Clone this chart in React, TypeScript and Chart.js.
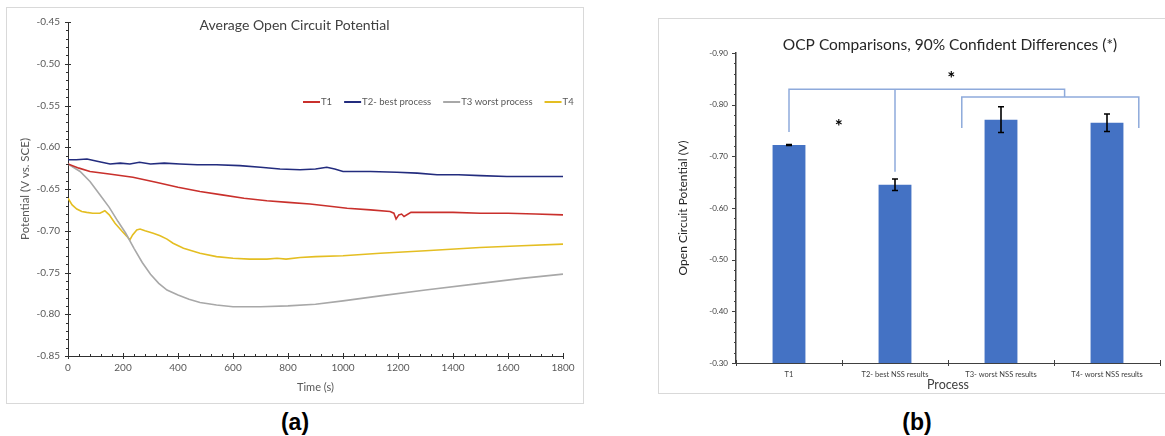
import React, { useEffect, useRef } from "react";
import { Chart, registerables } from "chart.js";

Chart.register(...registerables);

const FONT = "Lato, 'Open Sans', 'DejaVu Sans', sans-serif";

// ---------- Panel (a): Average Open Circuit Potential ----------
const seriesNames = ["T1", "T2- best process", "T3 worst process", "T4"];
const seriesColors = ["#C9302C", "#232C7E", "#A8A8A8", "#E4BE22"];

const t1Time = [0, 40, 80, 150, 236, 320, 400, 480, 560, 640, 723, 800, 880, 960, 1015, 1100, 1171, 1185, 1193, 1203, 1213, 1222, 1247, 1300, 1400, 1500, 1600, 1700, 1800];
const t1Value = [-0.620, -0.625, -0.629, -0.632, -0.636, -0.642, -0.648, -0.653, -0.657, -0.661, -0.664, -0.666, -0.668, -0.671, -0.673, -0.675, -0.677, -0.679, -0.686, -0.681, -0.680, -0.683, -0.678, -0.678, -0.678, -0.679, -0.679, -0.680, -0.681];

const t2Time = [0, 30, 69, 110, 153, 190, 225, 260, 300, 350, 407, 470, 540, 625, 700, 771, 844, 900, 941, 970, 1000, 1100, 1196, 1270, 1342, 1420, 1500, 1596, 1700, 1800];
const t2Value = [-0.615, -0.615, -0.614, -0.617, -0.620, -0.619, -0.620, -0.618, -0.620, -0.619, -0.620, -0.621, -0.621, -0.622, -0.624, -0.626, -0.627, -0.626, -0.624, -0.626, -0.629, -0.629, -0.630, -0.631, -0.633, -0.633, -0.634, -0.635, -0.635, -0.635];

const t3Time = [0, 44, 80, 116, 150, 182, 210, 240, 270, 300, 330, 360, 400, 440, 480, 540, 600, 700, 800, 900, 1000, 1135, 1300, 1500, 1650, 1800];
const t3Value = [-0.620, -0.629, -0.641, -0.657, -0.672, -0.689, -0.703, -0.721, -0.738, -0.752, -0.763, -0.771, -0.777, -0.782, -0.786, -0.789, -0.791, -0.791, -0.790, -0.788, -0.784, -0.778, -0.771, -0.763, -0.757, -0.752];

const t4Time = [0, 15, 32, 50, 68, 90, 116, 134, 150, 171, 195, 215, 225, 235, 250, 262, 280, 310, 335, 360, 382, 420, 480, 540, 600, 660, 723, 760, 793, 844, 900, 1000, 1135, 1300, 1498, 1650, 1800];
const t4Value = [-0.661, -0.669, -0.674, -0.677, -0.678, -0.679, -0.679, -0.676, -0.681, -0.691, -0.700, -0.707, -0.711, -0.705, -0.699, -0.698, -0.700, -0.703, -0.706, -0.710, -0.715, -0.721, -0.727, -0.731, -0.733, -0.734, -0.734, -0.733, -0.734, -0.732, -0.731, -0.730, -0.727, -0.724, -0.720, -0.718, -0.716];

const seriesTimes = [t1Time, t2Time, t3Time, t4Time];
const seriesValues = [t1Value, t2Value, t3Value, t4Value];

// ---------- Panel (b): OCP Comparisons ----------
const processes = ["T1", "T2- best NSS results", "T3- worst NSS results", "T4- worst NSS results"];
const ocpValues = [-0.722, -0.645, -0.771, -0.765];
const ocpErrors = [0.001, 0.011, 0.025, 0.017];
const barBase = -0.3;
// significance brackets in (category index, value) units
const bracketPaths = [
  [[0, -0.747], [0, -0.830], [2.6, -0.830], [2.6, -0.815]],
  [[1, -0.830], [1, -0.670]],
  [[1.63, -0.755], [1.63, -0.815], [3.3, -0.815], [3.3, -0.755]],
];
const starMarks = [[0.47, -0.765], [1.53, -0.857]];

// ---------- plugins ----------
const axisMarks = {
  id: "axisMarks",
  afterDraw(chart: any, _a: any, opts: any) {
    const ctx = chart.ctx;
    ctx.save();
    ctx.strokeStyle = opts.color || "#333";
    ctx.lineWidth = 1;
    const specs = opts.axes || {};
    for (const id of Object.keys(specs)) {
      const s = specs[id];
      const scale = chart.scales[id];
      if (!scale) continue;
      const majors: number[] = [];
      if (scale.type === "category") {
        const n = scale.getLabels().length;
        for (let i = 0; i <= n; i++) majors.push(scale.getPixelForValue(i - 0.5));
      } else {
        for (const tk of scale.ticks) majors.push(scale.getPixelForValue(tk.value));
      }
      const minors: number[] = [];
      const sub = s.sub || 1;
      for (let i = 0; i < majors.length - 1; i++)
        for (let k = 1; k < sub; k++) minors.push(majors[i] + ((majors[i + 1] - majors[i]) * k) / sub);
      const horiz = scale.isHorizontal();
      const base = horiz ? scale.top : scale.right;
      const seg = (p: number, inner: number, outer: number) => {
        const q = Math.round(p) + 0.5;
        ctx.beginPath();
        if (horiz) {
          ctx.moveTo(q, base - inner);
          ctx.lineTo(q, base + outer);
        } else {
          ctx.moveTo(base - outer, q);
          ctx.lineTo(base + inner, q);
        }
        ctx.stroke();
      };
      majors.forEach((p) => seg(p, s.majorIn, s.majorOut));
      minors.forEach((p) => seg(p, s.minorIn, s.minorOut));
    }
    ctx.restore();
  },
};

const innerTitle = {
  id: "innerTitle",
  afterDraw(chart: any, _a: any, o: any) {
    if (!o || !o.text) return;
    const { ctx, chartArea } = chart;
    ctx.save();
    ctx.font = o.font;
    ctx.fillStyle = o.color;
    ctx.textAlign = "center";
    ctx.textBaseline = "middle";
    const x = (chartArea.left + chartArea.right) / 2 + (o.dx || 0);
    ctx.fillText(o.text, x, chartArea.top + o.dy);
    ctx.restore();
  },
};

const lineLegend = {
  id: "lineLegend",
  afterDraw(chart: any, _a: any, o: any) {
    if (!o || !o.show) return;
    const { ctx, chartArea } = chart;
    ctx.save();
    let x = chartArea.left + o.dx;
    const y = chartArea.top + o.dy;
    ctx.font = o.font;
    ctx.textBaseline = "middle";
    ctx.textAlign = "left";
    chart.data.datasets.forEach((ds: any) => {
      ctx.strokeStyle = ds.borderColor;
      ctx.lineWidth = 2;
      ctx.beginPath();
      ctx.moveTo(x, y);
      ctx.lineTo(x + o.lineLen, y);
      ctx.stroke();
      x += o.lineLen + 1;
      ctx.fillStyle = o.color;
      ctx.fillText(ds.label, x, y);
      x += ctx.measureText(ds.label).width + o.gap;
    });
    ctx.restore();
  },
};

const errorBars = {
  id: "errorBars",
  afterDatasetsDraw(chart: any, _a: any, o: any) {
    if (!o || !o.values) return;
    const { ctx } = chart;
    const ys = chart.scales.y;
    const meta = chart.getDatasetMeta(0);
    ctx.save();
    ctx.strokeStyle = "#000";
    ctx.lineWidth = 1.6;
    meta.data.forEach((el: any, i: number) => {
      const v = o.values[i];
      const e = o.errors[i];
      const y1 = ys.getPixelForValue(v - e);
      const y2 = ys.getPixelForValue(v + e);
      ctx.beginPath();
      ctx.moveTo(el.x, y1);
      ctx.lineTo(el.x, y2);
      ctx.moveTo(el.x - 3, y1);
      ctx.lineTo(el.x + 3, y1);
      ctx.moveTo(el.x - 3, y2);
      ctx.lineTo(el.x + 3, y2);
      ctx.stroke();
    });
    ctx.restore();
  },
};

const brackets = {
  id: "brackets",
  afterDraw(chart: any, _a: any, o: any) {
    if (!o || !o.paths) return;
    const { ctx } = chart;
    const xs = chart.scales.x;
    const ys = chart.scales.y;
    ctx.save();
    ctx.strokeStyle = o.color;
    ctx.lineWidth = 1.5;
    o.paths.forEach((path: number[][]) => {
      ctx.beginPath();
      path.forEach(([cx, cy], i) => {
        const px = xs.getPixelForValue(cx);
        const py = ys.getPixelForValue(cy);
        if (i === 0) ctx.moveTo(px, py);
        else ctx.lineTo(px, py);
      });
      ctx.stroke();
    });
    ctx.fillStyle = "#000";
    ctx.font = o.starFont;
    ctx.textAlign = "center";
    ctx.textBaseline = "middle";
    o.stars.forEach(([cx, cy]: number[]) => {
      ctx.fillText("*", xs.getPixelForValue(cx), ys.getPixelForValue(cy) + o.starShift);
    });
    ctx.restore();
  },
};

const labelStyle = (cx: number): React.CSSProperties => ({
  position: "absolute",
  left: cx - 40,
  width: 80,
  top: 408,
  lineHeight: "28px",
  textAlign: "center",
  fontFamily: "'Liberation Sans Narrow', 'Liberation Sans', Arial, sans-serif",
  fontWeight: "bold",
  fontSize: 23,
  color: "#000",
});

export default function App() {
  const leftRef = useRef<HTMLCanvasElement>(null);
  const rightRef = useRef<HTMLCanvasElement>(null);

  useEffect(() => {
    const lineChart = new Chart(leftRef.current as HTMLCanvasElement, {
      type: "line",
      data: {
        datasets: seriesNames.map((name, s) => ({
          label: name,
          data: seriesTimes[s].map((t, i) => ({ x: t, y: seriesValues[s][i] })),
          borderColor: seriesColors[s],
          backgroundColor: seriesColors[s],
          borderWidth: 1.6,
          pointRadius: 0,
          tension: 0,
          fill: false,
        })),
      },
      options: {
        responsive: false,
        animation: false,
        layout: { padding: { left: 0, top: 11, right: 20, bottom: 0 } },
        scales: {
          x: {
            type: "linear",
            min: 0,
            max: 1800,
            afterFit: (s: any) => { s.height = 47; },
            ticks: { stepSize: 200, color: "#595959", font: { family: FONT, size: 10 }, padding: 6, maxRotation: 0, callback: (v: any) => String(v) },
            grid: { display: false, drawTicks: false },
            border: { display: true, color: "#303030", width: 1 },
            title: { display: true, text: "Time (s)", color: "#595959", font: { family: FONT, size: 11 }, padding: { top: 0, bottom: 9 } },
          },
          y: {
            type: "linear",
            min: -0.85,
            max: -0.45,
            afterFit: (s: any) => { s.width = 61; },
            ticks: { stepSize: 0.05, color: "#595959", font: { family: FONT, size: 10 }, padding: 8, callback: (v: any) => Number(v).toFixed(2) },
            grid: { display: false, drawTicks: false },
            border: { display: true, color: "#303030", width: 1 },
            title: { display: true, text: "Potential (V vs. SCE)", color: "#595959", font: { family: FONT, size: 11.5 }, padding: { top: 11, bottom: 0 } },
          },
        },
        plugins: {
          legend: { display: false },
          tooltip: { enabled: false },
          axisMarks: {
            color: "#303030",
            axes: {
              x: { sub: 5, majorIn: 3, majorOut: 3, minorIn: 2, minorOut: 0 },
              y: { sub: 5, majorIn: 3, majorOut: 3, minorIn: 1, minorOut: 2 },
            },
          },
          innerTitle: { text: "Average Open Circuit Potential", font: `14px ${FONT}`, color: "#404040", dy: 3, dx: -21 },
          lineLegend: { show: true, dx: 235, dy: 80, lineLen: 17, gap: 12, font: `9.5px ${FONT}`, color: "#595959" },
        },
      } as any,
      plugins: [axisMarks, innerTitle, lineLegend],
    });

    const barChart = new Chart(rightRef.current as HTMLCanvasElement, {
      type: "bar",
      data: {
        labels: processes,
        datasets: [
          {
            label: "OCP",
            data: ocpValues.map((v) => [barBase, v]),
            backgroundColor: "#4472C4",
            borderWidth: 0,
            categoryPercentage: 1,
            barPercentage: 0.31,
          },
        ],
      },
      options: {
        responsive: false,
        animation: false,
        layout: { padding: { left: 0, top: 34, right: 5, bottom: 0 } },
        scales: {
          x: {
            type: "category",
            afterFit: (s: any) => { s.height = 30; },
            ticks: { color: "#404040", font: { family: FONT, size: 7.5 }, padding: 7, maxRotation: 0, autoSkip: false },
            grid: { display: false, drawTicks: false },
            border: { display: true, color: "#404040", width: 1 },
            title: { display: true, text: "Process", color: "#404040", font: { family: FONT, size: 12.5 }, padding: { top: 0, bottom: 1 } },
          },
          y: {
            type: "linear",
            reverse: true,
            min: -0.9,
            max: -0.3,
            afterFit: (s: any) => { s.width = 77; },
            ticks: { stepSize: 0.1, color: "#404040", font: { family: FONT, size: 8 }, padding: 8, callback: (v: any) => Number(v).toFixed(2) },
            grid: { display: false, drawTicks: false },
            border: { display: true, color: "#404040", width: 1.5 },
            title: { display: true, text: "Open Circuit Potential (V)", color: "#262626", font: { family: FONT, size: 12 }, padding: { top: 17, bottom: 0 } },
          },
        },
        plugins: {
          legend: { display: false },
          tooltip: { enabled: false },
          axisMarks: {
            color: "#404040",
            axes: {
              x: { sub: 1, majorIn: 3, majorOut: 3, minorIn: 0, minorOut: 0 },
              y: { sub: 5, majorIn: 0, majorOut: 4, minorIn: 0, minorOut: 2 },
            },
          },
          innerTitle: { text: "OCP Comparisons, 90% Confident Differences (*)", font: `15.5px ${FONT}`, color: "#262626", dy: -8, dx: 2 },
          errorBars: { values: ocpValues, errors: ocpErrors },
          brackets: { paths: bracketPaths, stars: starMarks, color: "#8EAADB", starFont: `bold 19px ${FONT}`, starShift: 4 },
        },
      } as any,
      plugins: [axisMarks, innerTitle, errorBars, brackets],
    });

    return () => {
      lineChart.destroy();
      barChart.destroy();
    };
  }, []);

  return (
    <div style={{ position: "absolute", left: 0, top: 0, width: 1165, height: 436, overflow: "hidden", background: "#fff" }}>
      <div style={{ position: "absolute", left: 6, top: 7, width: 576, height: 395, border: "1px solid #d9d9d9" }}>
        <canvas ref={leftRef} width={576} height={395} style={{ display: "block" }} />
      </div>
      <div style={{ position: "absolute", left: 658, top: 18, width: 520, height: 374, border: "1px solid #d9d9d9" }}>
        <canvas ref={rightRef} width={506} height={374} style={{ display: "block" }} />
      </div>
      <div style={labelStyle(295)}>(a)</div>
      <div style={labelStyle(917)}>(b)</div>
    </div>
  );
}
